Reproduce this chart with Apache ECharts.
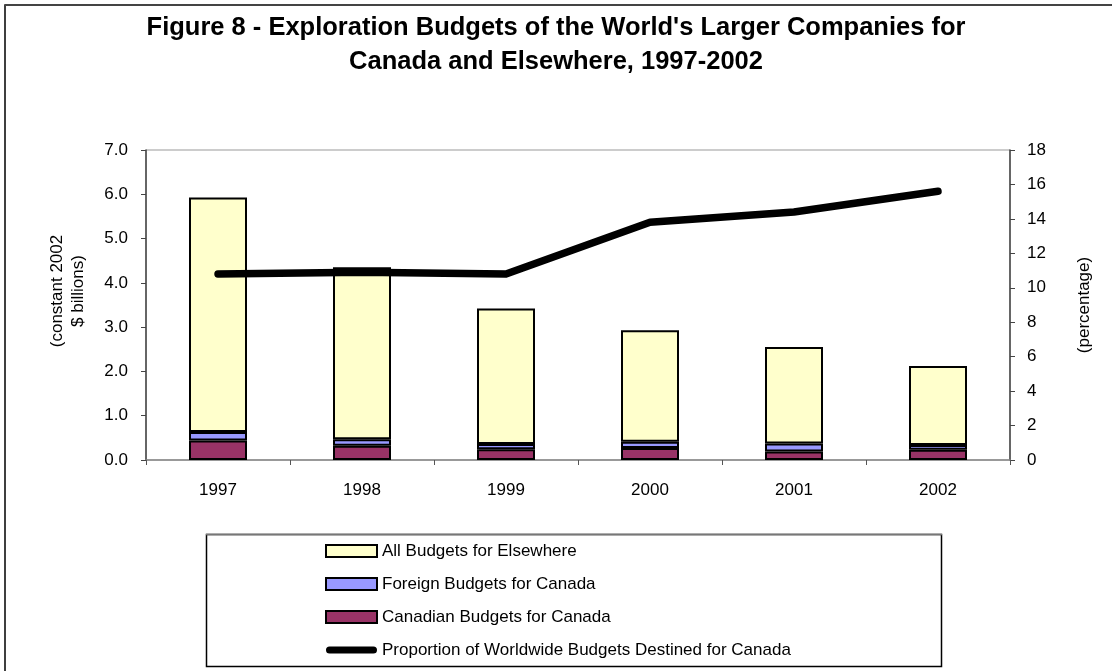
<!DOCTYPE html>
<html>
<head>
<meta charset="utf-8">
<script src="https://cdn.jsdelivr.net/npm/echarts@6/dist/echarts.min.js"></script>
<style>
html,body{margin:0;padding:0;background:#fff;}
#chart{width:1112px;height:671px;}
</style>
</head>
<body>
<div id="chart"></div>
<script>
// Data
const years = ['1997', '1998', '1999', '2000', '2001', '2002'];
const canadianForCanada = [0.44, 0.32, 0.24, 0.27, 0.19, 0.23];
const foreignForCanada = [0.19, 0.15, 0.12, 0.14, 0.18, 0.11];
const allForElsewhere = [5.30, 3.88, 3.06, 2.52, 2.18, 1.78];
const proportionCanada = [10.8, 10.9, 10.8, 13.8, 14.4, 15.6];

const titleText = "Figure 8 - Exploration Budgets of the World's Larger Companies for\nCanada and Elsewhere, 1997-2002";
const leftAxisName = "(constant 2002\n$ billions)";
const rightAxisName = "(percentage)";
const names = {
  elsewhere: 'All Budgets for Elsewhere',
  foreign: 'Foreign Budgets for Canada',
  canadian: 'Canadian Budgets for Canada',
  proportion: 'Proportion of Worldwide Budgets Destined for Canada'
};

const FONT = 'Liberation Sans, Arial, sans-serif';
const chart = echarts.init(document.getElementById('chart'), null, {renderer: 'canvas'});

const barBorder = {borderColor: '#000', borderWidth: 2};
const pillIcon = 'path://M4,0L53,0A4,4,0,0,1,53,8L4,8A4,4,0,0,1,4,0Z';

chart.setOption({
  animation: false,
  backgroundColor: '#fff',
  textStyle: {fontFamily: FONT, color: '#000'},
  title: {
    text: titleText,
    left: 'center',
    top: 6,
    textStyle: {fontFamily: FONT, fontSize: 25.5, fontWeight: 'bold', color: '#000', lineHeight: 34}
  },
  graphic: [
    {type: 'rect', silent: true, z: -1, shape: {x: 5, y: 5, width: 1300, height: 900},
     style: {fill: 'none', stroke: '#000', lineWidth: 1.5}},
    {type: 'line', silent: true, z: -1, shape: {x1: 5, y1: 5, x2: 1112, y2: 5},
     style: {stroke: '#444', lineWidth: 2}},
    {type: 'rect', silent: true, z: 0, shape: {x: 206.5, y: 534.5, width: 735, height: 132},
     style: {fill: '#fff', stroke: '#000', lineWidth: 1.5}},
    {type: 'line', silent: true, z: 0, shape: {x1: 206, y1: 534.5, x2: 942, y2: 534.5},
     style: {stroke: '#777', lineWidth: 1.5}}
  ],
  legend: {
    orient: 'vertical',
    left: 320,
    top: 536,
    itemWidth: 51,
    itemHeight: 12,
    itemGap: 13,
    padding: [5, 5, 5, 5],
    z: 5,
    symbolKeepAspect: true,
    textStyle: {fontFamily: FONT, fontSize: 17, color: '#000', lineHeight: 20},
    data: [
      {name: names.elsewhere, icon: 'rect'},
      {name: names.foreign, icon: 'rect'},
      {name: names.canadian, icon: 'rect'},
      {name: names.proportion, icon: pillIcon, itemStyle: {color: '#000', borderWidth: 0}}
    ]
  },
  grid: {
    left: 146, right: 102, top: 150, bottom: 211,
    show: true, borderColor: '#999', borderWidth: 1, backgroundColor: 'transparent'
  },
  xAxis: {
    type: 'category',
    data: years,
    boundaryGap: true,
    axisLine: {lineStyle: {color: '#888', width: 1.5}},
    axisTick: {show: true, length: 5, lineStyle: {color: '#555'}},
    axisLabel: {fontFamily: FONT, fontSize: 17, color: '#000', margin: 22},
    splitLine: {show: false}
  },
  yAxis: [
    {
      type: 'value', min: 0, max: 7, interval: 1,
      name: leftAxisName, nameLocation: 'middle', nameRotate: 90, nameGap: 57,
      nameTextStyle: {fontFamily: FONT, fontSize: 17, color: '#000', lineHeight: 21, padding: [0, 0, 0, 28]},
      axisLine: {show: true, lineStyle: {color: '#444', width: 1.5}},
      axisTick: {show: true, length: 5, lineStyle: {color: '#444'}},
      axisLabel: {fontFamily: FONT, fontSize: 17, color: '#000', margin: 18,
                  formatter: v => v.toFixed(1)},
      splitLine: {show: false}
    },
    {
      type: 'value', min: 0, max: 18, interval: 2, position: 'right',
      name: rightAxisName, nameLocation: 'middle', nameRotate: 90, nameGap: 66,
      nameTextStyle: {fontFamily: FONT, fontSize: 17, color: '#000'},
      axisLine: {show: true, lineStyle: {color: '#444', width: 1.5}},
      axisTick: {show: true, length: 5, lineStyle: {color: '#444'}},
      axisLabel: {fontFamily: FONT, fontSize: 17, color: '#000', margin: 17},
      splitLine: {show: false}
    }
  ],
  series: [
    {name: names.canadian, type: 'bar', stack: 'b', yAxisIndex: 0, barWidth: 58,
     data: canadianForCanada, itemStyle: Object.assign({color: '#993366'}, barBorder)},
    {name: names.foreign, type: 'bar', stack: 'b', yAxisIndex: 0, barWidth: 58,
     data: foreignForCanada, itemStyle: Object.assign({color: '#9999FF'}, barBorder)},
    {name: names.elsewhere, type: 'bar', stack: 'b', yAxisIndex: 0, barWidth: 58,
     data: allForElsewhere, itemStyle: Object.assign({color: '#FFFFCC'}, barBorder)},
    {name: names.proportion, type: 'line', yAxisIndex: 1, data: proportionCanada,
     symbol: 'none', z: 10,
     lineStyle: {color: '#000', width: 7.5, cap: 'round', join: 'round'},
     itemStyle: {color: '#000'}}
  ]
});
</script>
</body>
</html>
